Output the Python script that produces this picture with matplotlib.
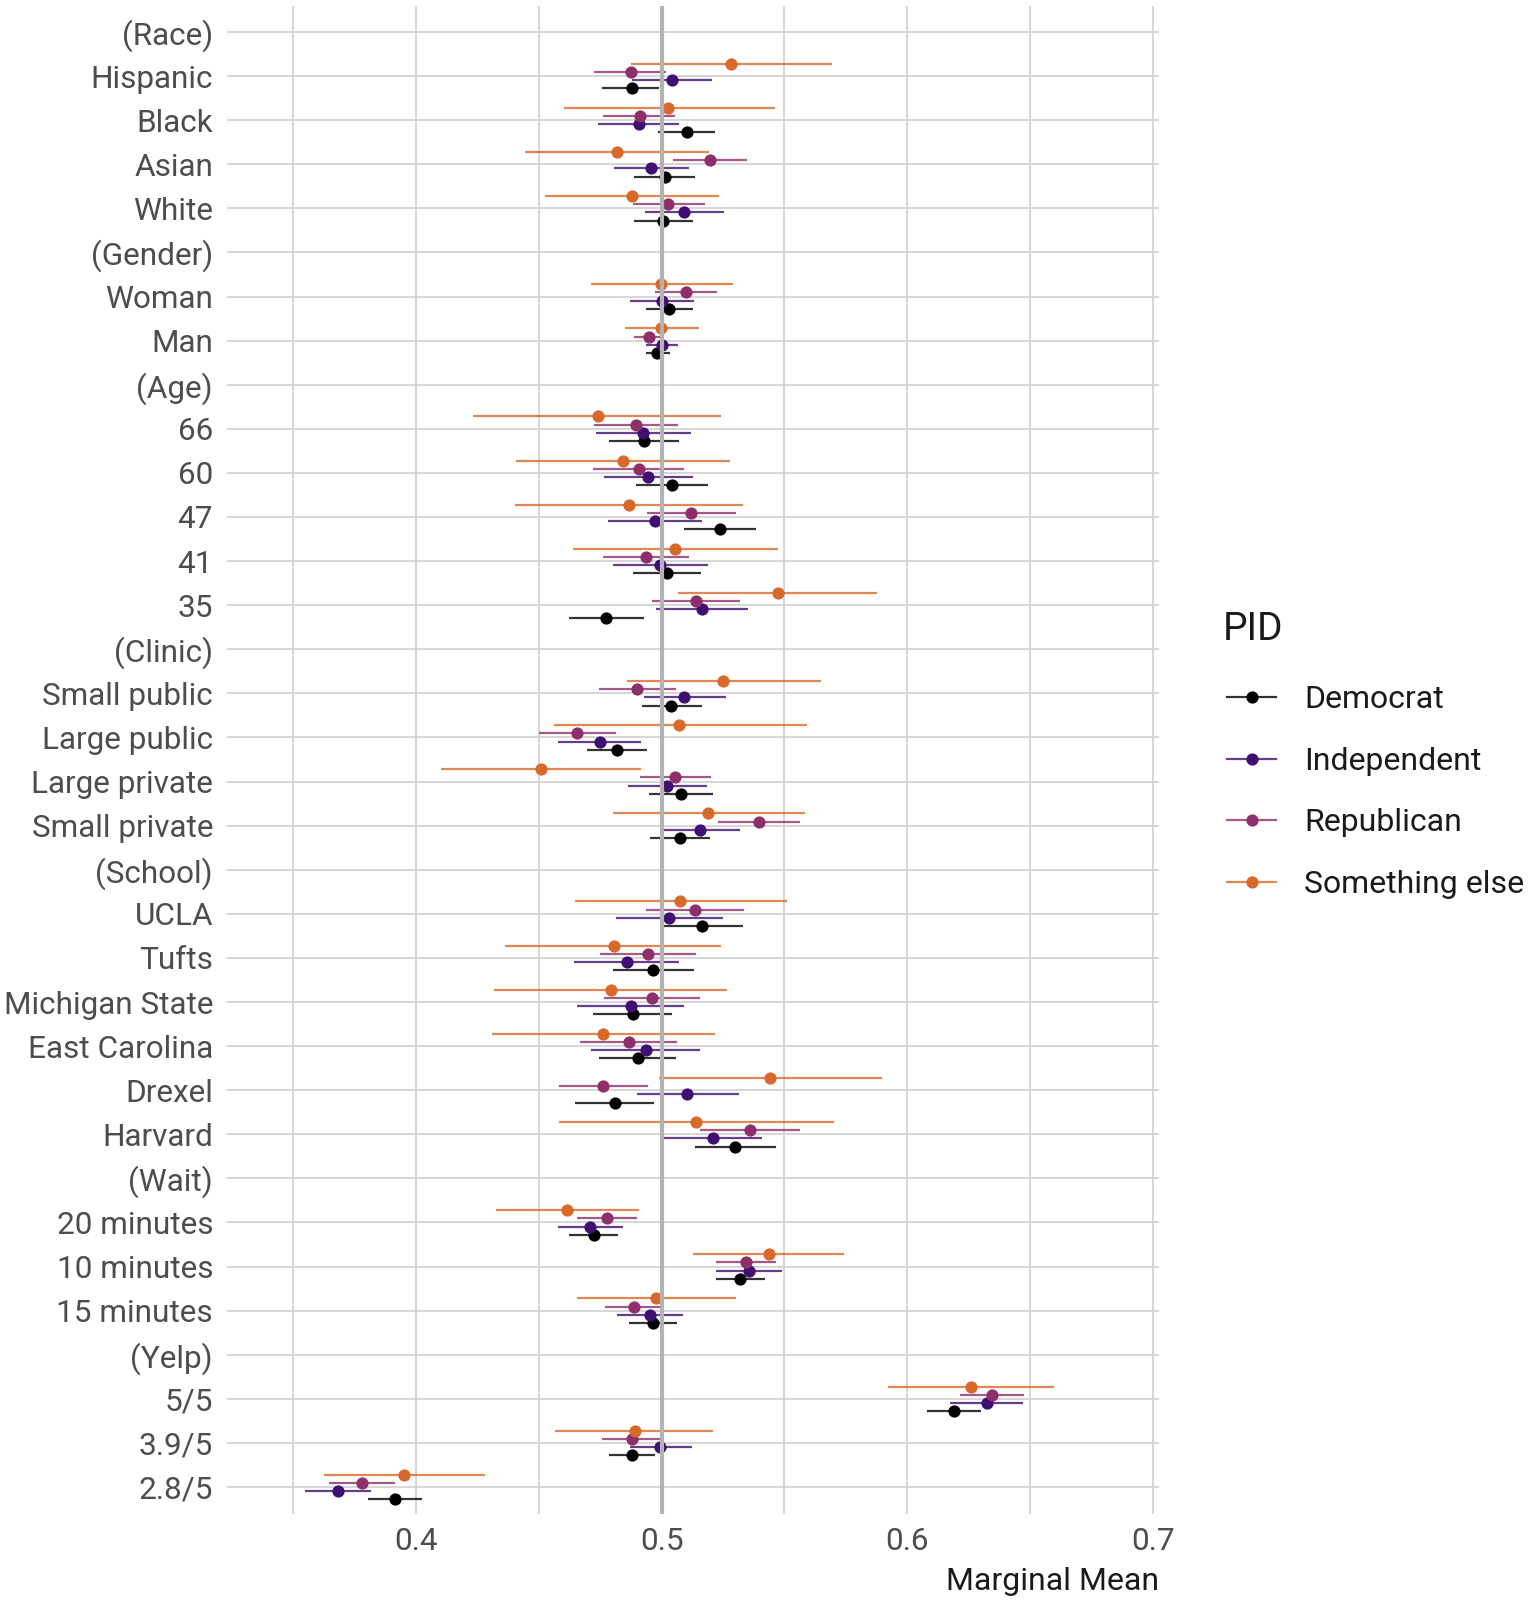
import numpy as np
import matplotlib
matplotlib.use("Agg")
import matplotlib.pyplot as plt
from matplotlib.lines import Line2D

plt.rcParams['font.family'] = ['Roboto', 'DejaVu Sans']

labels = ["(Race)", "Hispanic", "Black", "Asian", "White",
          "(Gender)", "Woman", "Man",
          "(Age)", "66", "60", "47", "41", "35",
          "(Clinic)", "Small public", "Large public", "Large private", "Small private",
          "(School)", "UCLA", "Tufts", "Michigan State", "East Carolina", "Drexel", "Harvard",
          "(Wait)", "20 minutes", "10 minutes", "15 minutes",
          "(Yelp)", "5/5", "3.9/5", "2.8/5"]

N = None
dem_est = [N, 0.4880, 0.5102, 0.5013, 0.5006, N, 0.5029, 0.4980, N, 0.4927, 0.5040, 0.5237, 0.5023, 0.4774,
           N, 0.5039, 0.4818, 0.5078, 0.5074, N, 0.5163, 0.4965, 0.4883, 0.4905, 0.4809, 0.5300,
           N, 0.4723, 0.5318, 0.4964, N, 0.6190, 0.4881, 0.3914]
dem_lo = [N, 0.4756, 0.4984, 0.4887, 0.4889, N, 0.4935, 0.4935, N, 0.4787, 0.4897, 0.5092, 0.4885, 0.4624,
          N, 0.4919, 0.4694, 0.4949, 0.4954, N, 0.5007, 0.4800, 0.4719, 0.4746, 0.4645, 0.5134,
          N, 0.4622, 0.5220, 0.4866, N, 0.6080, 0.4785, 0.3806]
dem_hi = [N, 0.4989, 0.5219, 0.5137, 0.5127, N, 0.5126, 0.5032, N, 0.5069, 0.5190, 0.5382, 0.5160, 0.4926,
          N, 0.5163, 0.4942, 0.5210, 0.5196, N, 0.5332, 0.5131, 0.5044, 0.5058, 0.4968, 0.5465,
          N, 0.4823, 0.5420, 0.5062, N, 0.6302, 0.4974, 0.4026]

ind_est = [N, 0.5040, 0.4906, 0.4958, 0.5092, N, 0.5002, 0.5000, N, 0.4924, 0.4945, 0.4971, 0.4995, 0.5163,
           N, 0.5092, 0.4747, 0.5023, 0.5154, N, 0.5030, 0.4859, 0.4876, 0.4935, 0.5104, 0.5207,
           N, 0.4708, 0.5354, 0.4952, N, 0.6323, 0.4995, 0.3680]
ind_lo = [N, 0.4879, 0.4739, 0.4806, 0.4934, N, 0.4873, 0.4935, N, 0.4734, 0.4766, 0.4782, 0.4803, 0.4976,
          N, 0.4928, 0.4578, 0.4862, 0.4993, N, 0.4813, 0.4643, 0.4657, 0.4712, 0.4898, 0.5007,
          N, 0.4576, 0.5220, 0.4818, N, 0.6173, 0.4873, 0.3546]
ind_hi = [N, 0.5206, 0.5069, 0.5111, 0.5255, N, 0.5132, 0.5068, N, 0.5118, 0.5127, 0.5166, 0.5189, 0.5352,
          N, 0.5260, 0.4917, 0.5184, 0.5320, N, 0.5251, 0.5071, 0.5092, 0.5157, 0.5313, 0.5408,
          N, 0.4843, 0.5490, 0.5086, N, 0.6471, 0.5122, 0.3816]

rep_est = [N, 0.4874, 0.4911, 0.5197, 0.5027, N, 0.5100, 0.4950, N, 0.4895, 0.4906, 0.5119, 0.4937, 0.5140,
           N, 0.4901, 0.4655, 0.5053, 0.5398, N, 0.5134, 0.4943, 0.4959, 0.4866, 0.4761, 0.5360,
           N, 0.4776, 0.5342, 0.4888, N, 0.6345, 0.4881, 0.3780]
rep_lo = [N, 0.4726, 0.4763, 0.5045, 0.4884, N, 0.4974, 0.4887, N, 0.4724, 0.4721, 0.4940, 0.4761, 0.4960,
          N, 0.4746, 0.4500, 0.4912, 0.5231, N, 0.4936, 0.4749, 0.4767, 0.4666, 0.4580, 0.5157,
          N, 0.4654, 0.5220, 0.4768, N, 0.6216, 0.4756, 0.3646]
rep_hi = [N, 0.5016, 0.5056, 0.5347, 0.5176, N, 0.5224, 0.5008, N, 0.5066, 0.5089, 0.5302, 0.5113, 0.5319,
          N, 0.5057, 0.4813, 0.5200, 0.5562, N, 0.5334, 0.5140, 0.5157, 0.5064, 0.4945, 0.5564,
          N, 0.4901, 0.5466, 0.4993, N, 0.6474, 0.4993, 0.3916]

se_est = [N, 0.5284, 0.5027, 0.4818, 0.4880, N, 0.4998, 0.4998, N, 0.4739, 0.4842, 0.4868, 0.5055, 0.5474,
          N, 0.5251, 0.5072, 0.4507, 0.5189, N, 0.5076, 0.4804, 0.4795, 0.4763, 0.5442, 0.5140,
          N, 0.4615, 0.5435, 0.4976, N, 0.6259, 0.4890, 0.3950]
se_lo = [N, 0.4876, 0.4602, 0.4442, 0.4524, N, 0.4713, 0.4850, N, 0.4232, 0.4406, 0.4403, 0.4640, 0.5068,
         N, 0.4859, 0.4560, 0.4102, 0.4800, N, 0.4645, 0.4362, 0.4318, 0.4311, 0.4989, 0.4581,
         N, 0.4325, 0.5129, 0.4656, N, 0.5922, 0.4565, 0.3625]
se_hi = [N, 0.5695, 0.5460, 0.5192, 0.5235, N, 0.5289, 0.5152, N, 0.5242, 0.5277, 0.5331, 0.5473, 0.5877,
         N, 0.5650, 0.5590, 0.4917, 0.5585, N, 0.5509, 0.5242, 0.5267, 0.5216, 0.5896, 0.5703,
         N, 0.4906, 0.5743, 0.5303, N, 0.6596, 0.5210, 0.4280]

groups = ["Democrat", "Independent", "Republican", "Something else"]
colors = ["#000000", "#3f0f72", "#8f2f6a", "#d8692b"]
offsets = [0.28, 0.093, -0.093, -0.28]
series = [(dem_est, dem_lo, dem_hi), (ind_est, ind_lo, ind_hi),
          (rep_est, rep_lo, rep_hi), (se_est, se_lo, se_hi)]

def arr(v):
    return np.array([np.nan if x is None else x for x in v], dtype=float)

W, H = 1536, 1600
fig = plt.figure(figsize=(W / 100, H / 100), dpi=100)
ax = fig.add_axes([227 / W, 1 - 1513.5 / H, (1159 - 227) / W, (1513.5 - 5.5) / H])

ypos = np.arange(len(labels))
grid_c = "#d6d6d6"
for y in ypos:
    ax.axhline(y, color=grid_c, lw=1.4, zorder=0)
for x in [0.35, 0.4, 0.45, 0.5, 0.55, 0.6, 0.65, 0.7]:
    ax.axvline(x, color=grid_c, lw=1.4, zorder=0)

for g, c, off, (e, lo, hi) in zip(groups, colors, offsets, series):
    e, lo, hi = arr(e), arr(lo), arr(hi)
    yy = ypos + off
    ax.hlines(yy, lo, hi, color=c, lw=1.6, alpha=0.8, zorder=2)
    ax.plot(e, yy, 'o', color=c, ms=8.8, mew=0, zorder=3)

ax.axvline(0.5, color="#b3b3b3", lw=3.0, zorder=4)

ax.set_xlim(0.3230, 0.7025)
ax.set_ylim(len(labels) - 1 + 0.6, -0.6)
ax.set_yticks(ypos)
ax.set_yticklabels(labels)
ax.set_xticks([0.4, 0.5, 0.6, 0.7])
ax.set_xticklabels(["0.4", "0.5", "0.6", "0.7"])
ax.tick_params(axis='both', length=0, labelsize=22.7, labelcolor="#4d4d4d")
ax.tick_params(axis='y', pad=10)
ax.tick_params(axis='x', pad=10)
for s in ax.spines.values():
    s.set_visible(False)

ax.set_xlabel("Marginal Mean", fontsize=23, color="#1a1a1a", loc='right', labelpad=8)

# legend (drawn in figure coordinates)
fig.text(1223 / W, 1 - 640 / H, "PID", fontsize=28, color="#1a1a1a",
         ha='left', va='baseline')
for i, (g, c) in enumerate(zip(groups, colors)):
    yf = 1 - (697 + 61.5 * i) / H
    fig.add_artist(Line2D([1227 / W, 1276 / W], [yf, yf], color=c, lw=1.6, alpha=0.8,
                          transform=fig.transFigure))
    fig.add_artist(Line2D([1251.5 / W], [yf], color=c, marker='o', ms=8.8, mew=0, lw=0,
                          transform=fig.transFigure))
    fig.text(1304 / W, yf, g, fontsize=23, color="#1a1a1a", ha='left', va='center_baseline')

fig.savefig("out.png", dpi=100)
